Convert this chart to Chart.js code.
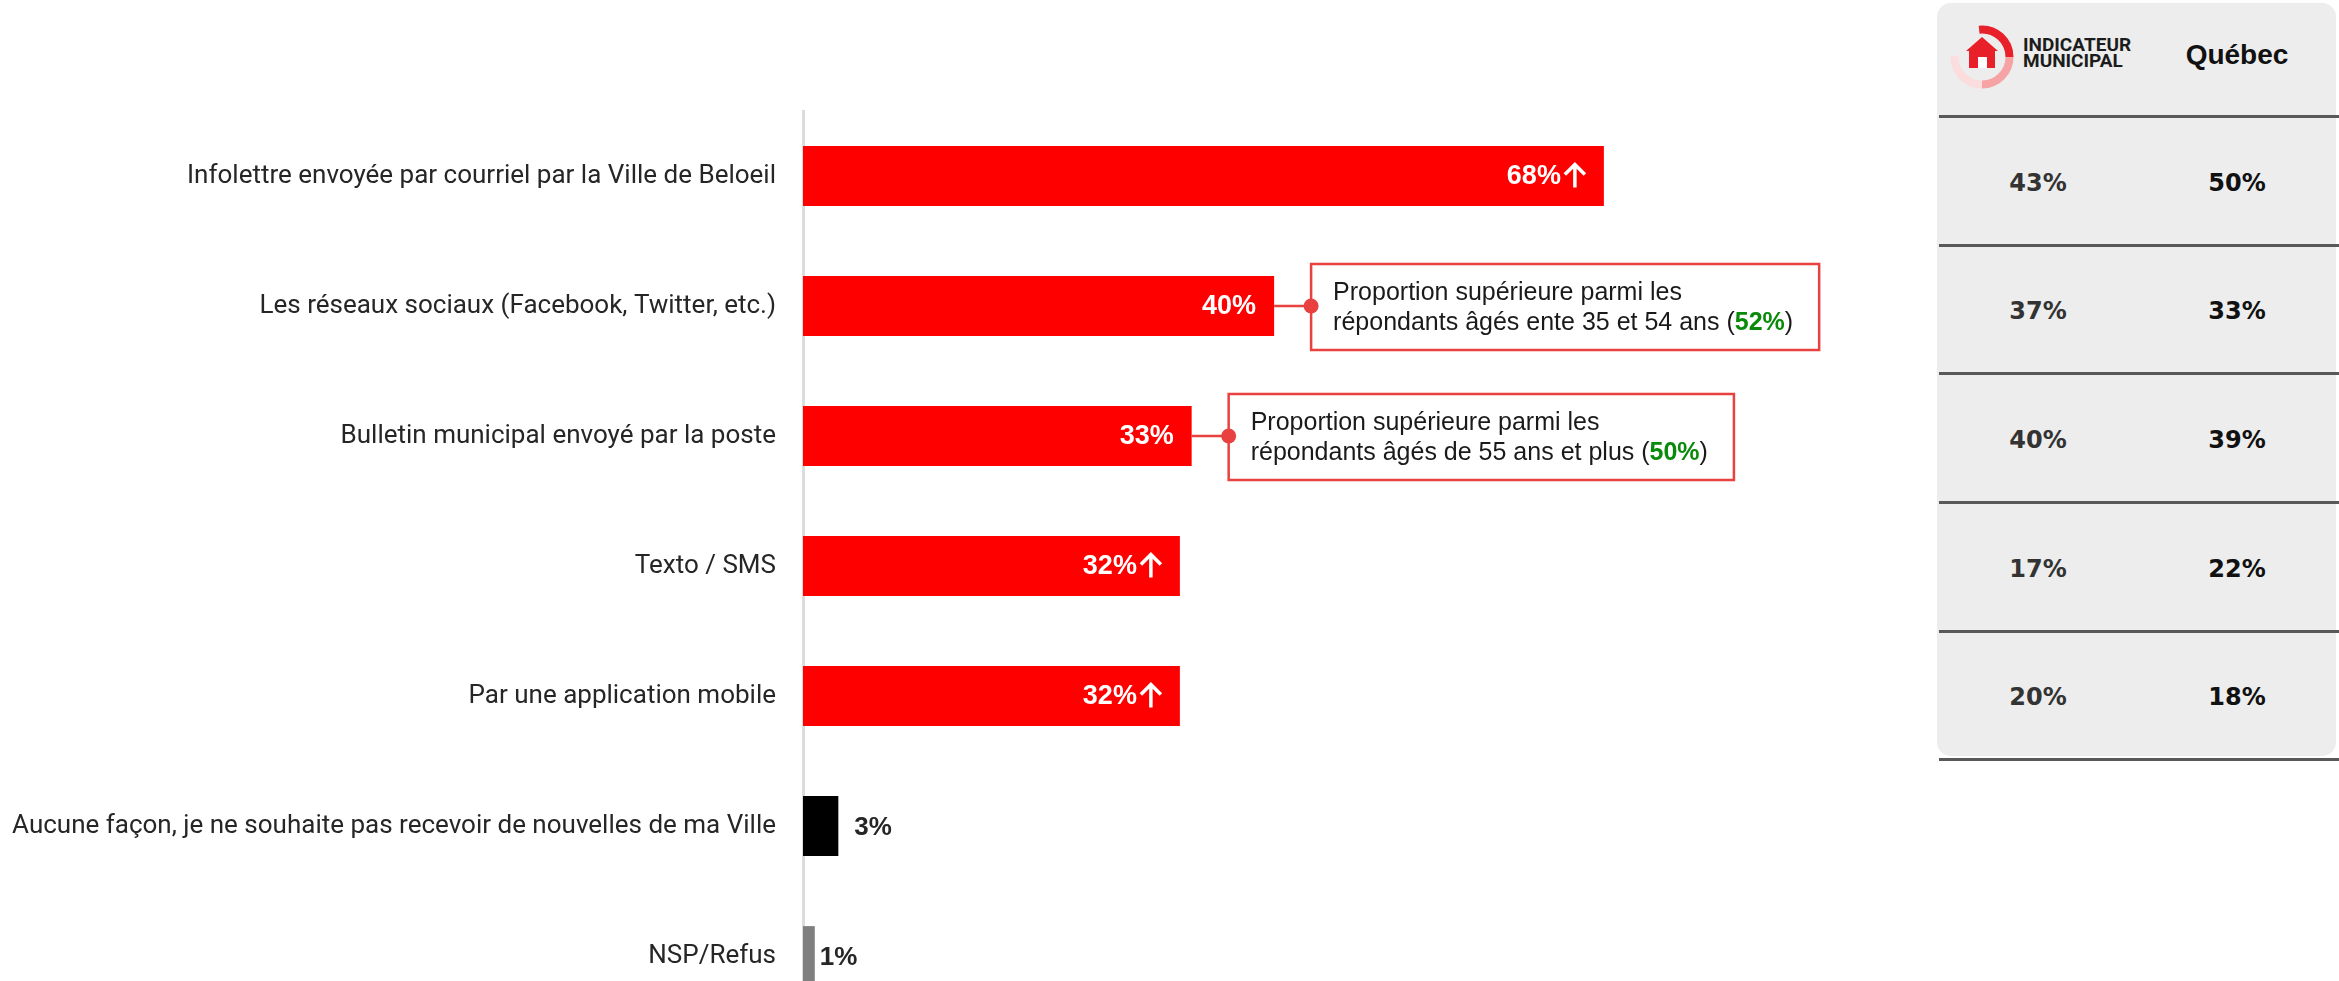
<!DOCTYPE html>
<html lang="fr">
<head>
<meta charset="utf-8">
<title>Moyens privilégiés pour recevoir les nouvelles de la Ville</title>
<script src="https://cdn.jsdelivr.net/npm/chart.js@4.4.1/dist/chart.umd.min.js"></script>
<style>
  html, body { margin: 0; padding: 0; width: 2339px; height: 981px; overflow: hidden; background: #fff; }
  #canalChart { position: absolute; left: 0; top: 0; }
  #panel { position: absolute; left: 1937px; top: 3px; width: 399px; height: 753px; background: #ededed; border-radius: 14px; }
  .rule { position: absolute; left: 1939px; width: 400px; height: 3px; background: #58585a; }
  .cell { position: absolute; width: 160px; margin-left: -80px; text-align: center; font: bold 24px "DejaVu Sans", "Liberation Sans", sans-serif; line-height: 30px; }
  .head { font: bold 28px "Liberation Sans", Arial, sans-serif; }
  .brand { position: absolute; left: 2023px; top: 37px; font: bold 19px "Liberation Sans Narrow", "Roboto", sans-serif; line-height: 16px; color: #1c1c1c; }
  #logo { position: absolute; left: 1946px; top: 22px; }
</style>
</head>
<body>
<!-- canvas is 40px taller than the page: the last bar gets cut at the bottom edge -->
<canvas id="canalChart" width="1900" height="1021"></canvas>
<div id="panel"></div>
<svg id="logo" width="72" height="72" viewBox="0 0 72 72"></svg>
<div class="brand">INDICATEUR<br>MUNICIPAL</div>
<div id="table"></div>

<script>
'use strict';

const CATEGORIES = [
    'Infolettre envoyée par courriel par la Ville de Beloeil',
    'Les réseaux sociaux (Facebook, Twitter, etc.)',
    'Bulletin municipal envoyé par la poste',
    'Texto / SMS',
    'Par une application mobile',
    'Aucune façon, je ne souhaite pas recevoir de nouvelles de ma Ville',
    'NSP/Refus'
];
const VALUES = [68, 40, 33, 32, 32, 3, 1];
const UP_ARROW = [true, false, false, true, true, false, false];

// comparison columns
const INDICATEUR = [43, 37, 40, 17, 20];
const QUEBEC = [50, 33, 39, 22, 18];
const TABLE_HEADER = 'Québec';

// callouts attached to bars
const CALLOUT_ROWS = [1, 2];
const CALLOUT_LINES = [
    ['Proportion supérieure parmi les', 'répondants âgés ente 35 et 54 ans'],
    ['Proportion supérieure parmi les', 'répondants âgés de 55 ans et plus']
];
const CALLOUT_VALUES = [52, 50];

const SANS = '"Liberation Sans", Arial, sans-serif';
const LABEL_FONT = 'Roboto, "Liberation Sans", sans-serif';
const RED = '#FF0000';
const CALLOUT_RED = '#E8413F';
const BAR_COLORS = [RED, RED, RED, RED, RED, '#000000', '#7F7F7F'];

/* ── value labels on bars ─────────────────────────── */
function drawUpArrow(ctx, right, cy) {
    const cx = right - 11, h = 23;
    ctx.save();
    ctx.strokeStyle = '#FFFFFF';
    ctx.lineWidth = 3.5;
    ctx.beginPath();
    ctx.moveTo(cx, cy - h / 2 + 1);
    ctx.lineTo(cx, cy + h / 2);
    ctx.moveTo(cx - 10, cy - h / 2 + 10);
    ctx.lineTo(cx, cy - h / 2);
    ctx.lineTo(cx + 10, cy - h / 2 + 10);
    ctx.stroke();
    ctx.restore();
}

const barLabels = {
    id: 'barLabels',
    afterDatasetsDraw(chart) {
        const { ctx } = chart;
        chart.getDatasetMeta(0).data.forEach((bar, i) => {
            const txt = VALUES[i] + '%';
            ctx.save();
            ctx.textBaseline = 'middle';
            if (VALUES[i] >= 10) {
                let right = bar.x - 18;
                if (UP_ARROW[i]) {
                    drawUpArrow(ctx, right, bar.y);
                    right -= 25;
                }
                ctx.font = `bold 27px ${SANS}`;
                ctx.fillStyle = '#FFFFFF';
                ctx.textAlign = 'right';
                ctx.fillText(txt, right, bar.y + 1);
            } else {
                ctx.font = `bold 26px ${SANS}`;
                ctx.fillStyle = '#262626';
                ctx.textAlign = 'left';
                ctx.fillText(txt, bar.x + (i === 5 ? 16 : 5), bar.y + 2);
            }
            ctx.restore();
        });
    }
};

/* ── callout boxes ────────────────────────────────── */
const callouts = {
    id: 'callouts',
    afterDatasetsDraw(chart) {
        const { ctx } = chart;
        const bars = chart.getDatasetMeta(0).data;
        CALLOUT_ROWS.forEach((row, k) => {
            const bar = bars[row];
            const left = bar.x + 37;
            const [l1, l2] = CALLOUT_LINES[k];
            const hi = CALLOUT_VALUES[k] + '%';
            const regular = `25px ${SANS}`;
            const bold = `bold 25px ${SANS}`;

            ctx.save();
            ctx.font = regular;
            const w1 = ctx.measureText(l1).width;
            const wa = ctx.measureText(l2 + ' (').width;
            const wc = ctx.measureText(')').width;
            ctx.font = bold;
            const wb = ctx.measureText(hi).width;
            const boxW = Math.max(w1, wa + wb + wc) + 22 + 26;
            const boxH = 86;
            const top = bar.y - boxH / 2 + 1;

            ctx.fillStyle = '#FFFFFF';
            ctx.fillRect(left, top, boxW, boxH);
            ctx.strokeStyle = CALLOUT_RED;
            ctx.lineWidth = 2.5;
            ctx.strokeRect(left, top, boxW, boxH);
            ctx.beginPath();
            ctx.moveTo(bar.x, bar.y);
            ctx.lineTo(left, bar.y);
            ctx.stroke();
            ctx.fillStyle = CALLOUT_RED;
            ctx.beginPath();
            ctx.arc(left, bar.y, 7.5, 0, Math.PI * 2);
            ctx.fill();

            const tx = left + 22;
            ctx.textBaseline = 'middle';
            ctx.textAlign = 'left';
            ctx.font = regular;
            ctx.fillStyle = '#1A1A1A';
            ctx.fillText(l1, tx, top + 29);
            ctx.fillText(l2 + ' (', tx, top + 59);
            ctx.font = bold;
            ctx.fillStyle = '#0A8A0A';
            ctx.fillText(hi, tx + wa, top + 59);
            ctx.font = regular;
            ctx.fillStyle = '#1A1A1A';
            ctx.fillText(')', tx + wa + wb, top + 59);
            ctx.restore();
        });
    }
};

new Chart(document.getElementById('canalChart'), {
    type: 'bar',
    data: {
        labels: CATEGORIES,
        datasets: [{
            data: VALUES,
            backgroundColor: BAR_COLORS,
            borderWidth: 0,
            barPercentage: 0.46,
            categoryPercentage: 1
        }]
    },
    options: {
        indexAxis: 'y',
        responsive: false,
        animation: false,
        layout: { padding: { top: 111, right: 37, left: 0, bottom: 0 } },
        plugins: { legend: { display: false }, tooltip: { enabled: false } },
        scales: {
            x: { display: false, min: 0, max: 90 },
            y: {
                afterFit: s => {
                    s.width = 803;
                    // no extra room for the first/last label: rows sit on a fixed 130px pitch
                    s.paddingTop = 0;
                    s.paddingBottom = 0;
                },
                grid: { display: false, drawTicks: false },
                border: { display: true, color: '#DCDCDC', width: 3 },
                ticks: {
                    padding: 27,
                    color: '#262626',
                    font: { family: LABEL_FONT, size: 26 }
                }
            }
        }
    },
    plugins: [barLabels, callouts]
});

/* ── comparison table ─────────────────────────────── */
(function buildTable() {
    const host = document.getElementById('table');
    const ruleY = [116, 245, 373, 502, 631, 759];
    ruleY.forEach(y => {
        const d = document.createElement('div');
        d.className = 'rule';
        d.style.top = (y - 1) + 'px';
        host.appendChild(d);
    });
    const addCell = (txt, x, y, color, extra) => {
        const d = document.createElement('div');
        d.className = 'cell' + (extra ? ' ' + extra : '');
        d.textContent = txt;
        d.style.left = x + 'px';
        d.style.top = (y - 15) + 'px';
        d.style.color = color;
        host.appendChild(d);
    };
    addCell(TABLE_HEADER, 2237, 54, '#111111', 'head');
    INDICATEUR.forEach((v, i) => {
        const y = (ruleY[i] + ruleY[i + 1]) / 2 + 2;
        addCell(v + '%', 2038, y, '#333333');
        addCell(QUEBEC[i] + '%', 2237, y, '#111111');
    });
})();

/* ── logo ring + house ────────────────────────────── */
(function drawLogo() {
    const svg = document.getElementById('logo');
    const cx = 36, cy = 35, r = 27.5;
    const arc = (a0, a1, color) => {
        const p = a => [cx + r * Math.cos(a * Math.PI / 180), cy + r * Math.sin(a * Math.PI / 180)];
        const [x0, y0] = p(a0), [x1, y1] = p(a1);
        const path = document.createElementNS('http://www.w3.org/2000/svg', 'path');
        path.setAttribute('d', `M${x0} ${y0} A${r} ${r} 0 0 1 ${x1} ${y1}`);
        path.setAttribute('fill', 'none');
        path.setAttribute('stroke', color);
        path.setAttribute('stroke-width', '8');
        svg.appendChild(path);
    };
    arc(-96, 0, '#E8202A');
    arc(0, 90, '#F5A3A5');
    arc(90, 182, '#FCDDDE');
    svg.insertAdjacentHTML('beforeend',
        '<polygon points="36,15 52,29 49,29 49,46 23,46 23,29 20,29" fill="#E8202A"/>' +
        '<rect x="32" y="35" width="9" height="11" fill="#fff"/>');
})();
</script>
</body>
</html>
